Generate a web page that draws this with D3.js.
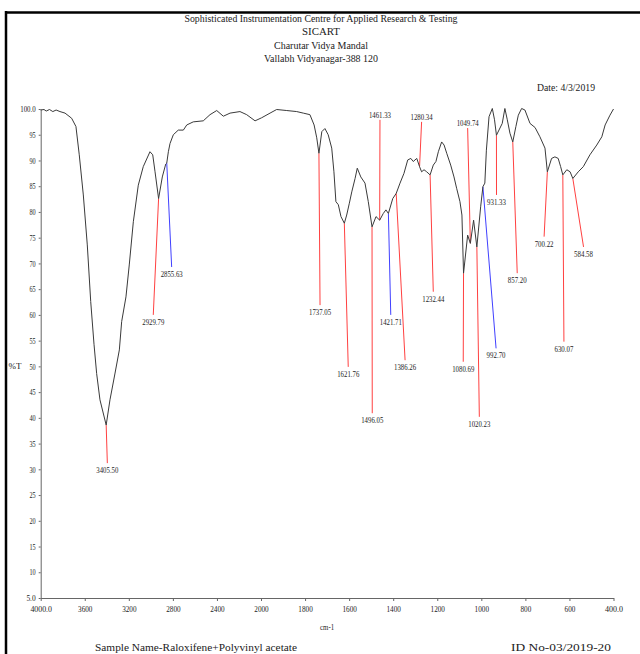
<!DOCTYPE html>
<html>
<head>
<meta charset="utf-8">
<script src="https://cdn.jsdelivr.net/npm/d3@7"></script>
<style>
  html, body { margin: 0; padding: 0; background: #fff; }
  svg { display: block; }
  text { font-family: "Liberation Serif", "DejaVu Serif", serif; fill: #222; }
</style>
</head>
<body>
<svg id="graf_ir" width="640" height="654"></svg>
<script>
// spectrum (cm-1, %T)
const wavenumber = [4000, 3970, 3950, 3920, 3890, 3860, 3825, 3779, 3719, 3680, 3650, 3613, 3577, 3546, 3516, 3492, 3462, 3405.5, 3371, 3325, 3286, 3265, 3226, 3196, 3159, 3114, 3069, 3008, 2983, 2962, 2929.79, 2896, 2865, 2855.63, 2841, 2826, 2796, 2751, 2705, 2674, 2615, 2524, 2463, 2402, 2342, 2281, 2191, 2130, 2054, 1997, 1959, 1929, 1883, 1838, 1808, 1778, 1759, 1747, 1737.05, 1724, 1710, 1695, 1679, 1669, 1660, 1649, 1637, 1621.76, 1611, 1599, 1588, 1573, 1563, 1547, 1528, 1513, 1496.05, 1478, 1461.33, 1445, 1433, 1421.71, 1402, 1386.26, 1369, 1351, 1334, 1320, 1309, 1293, 1280.34, 1271, 1260, 1248, 1232.44, 1218, 1206, 1195, 1180, 1169, 1157, 1139, 1124, 1112, 1097, 1088, 1080.69, 1062, 1049.74, 1035, 1020.23, 1003, 992.7, 984, 977, 965, 950, 940, 931.33, 905, 893, 882, 870, 857.2, 843, 832, 817, 802, 779, 756, 734, 711, 700.22, 681, 666, 651, 640, 630.07, 612, 597, 584.58, 560, 537, 507, 476, 453, 438, 416, 400];
const transmittance = [99.8, 99.9, 99.6, 99.9, 99.5, 99.8, 99.5, 99.2, 98.2, 96.6, 91.1, 83.3, 73.6, 62.6, 54.3, 48.6, 43.5, 38.6, 43.5, 48.7, 53.2, 58.7, 63.5, 69.7, 78.1, 85.2, 88.8, 91.7, 91.1, 87.8, 82.6, 86.8, 89.3, 89.5, 91.7, 93.3, 95, 95.9, 95.9, 96.9, 97.5, 97.7, 98.9, 99.7, 98.6, 99.2, 99.5, 98.9, 97.7, 98.3, 99.2, 99.9, 99.7, 99.5, 99.2, 98.9, 96.9, 94.4, 91.4, 95.6, 96.2, 95, 92.4, 87.8, 82, 81.4, 79.1, 77.8, 79.4, 81.7, 83.9, 86.5, 88.5, 86.8, 85.6, 82, 77.1, 79.1, 78.4, 79.7, 80.4, 79.7, 82.6, 83.6, 85.6, 87.5, 90.1, 90.4, 89.8, 90.4, 88.8, 87.8, 88.2, 87.8, 87.2, 89.1, 89.8, 91.7, 93.6, 93, 91.4, 89.1, 86.8, 84.6, 82, 79.4, 68.1, 75.5, 73.9, 78.4, 73.2, 81, 84.9, 85.6, 92, 98.5, 100.1, 97.9, 94.9, 97.2, 100.1, 97.9, 95.3, 93.6, 96.6, 98.8, 100.1, 99.8, 97.2, 96.4, 94.6, 92.4, 87.8, 90.4, 90.7, 90.4, 88.8, 87.2, 88.2, 87.8, 86.5, 87.8, 88.8, 91.1, 93, 94.6, 96.9, 98.8, 100];

// peak picks
const peakLabels = ["3405.50", "2929.79", "2855.63", "1737.05", "1621.76", "1496.05", "1461.33", "1421.71", "1386.26", "1280.34", "1232.44", "1080.69", "1049.74", "1020.23", "992.70", "931.33", "857.20", "700.22", "630.07", "584.58"];
const peakWn = peakLabels.map(Number);
// where each pick line ends (cm-1, %T)
const labelEndWn = [3395, 2978, 2811, 1732, 1604, 1495, 1460, 1411, 1346, 1271, 1218, 1082, 1062, 1009, 933, 931, 837, 715, 625, 536];
const labelEndT = [31.2, 60.0, 69.3, 61.9, 49.9, 40.9, 97.9, 60.0, 51.2, 97.5, 64.5, 50.9, 96.3, 40.2, 53.5, 83.3, 68.1, 75.2, 54.8, 73.2];
const bluePeaks = ["2855.63", "1421.71", "992.70"];

const xTicks = [4000, 3600, 3200, 2800, 2400, 2000, 1800, 1600, 1400, 1200, 1000, 800, 600, 400];
const yTicks = d3.range(5, 101, 5);

const header = ["Sophisticated Instrumentation Centre for Applied Research & Testing", "SICART", "Charutar Vidya Mandal", "Vallabh Vidyanagar-388 120"];
const headerWidth = [273, 38, 94, 114];
const dateText = "Date: 4/3/2019";
const sampleText = "Sample Name-Raloxifene+Polyvinyl acetate";
const idText = "ID No-03/2019-20";

const svg = d3.select("#graf_ir");

// spectrometer axis: scale doubles below 2000 cm-1
const x = d3.scaleLinear().domain([4000, 2000, 400]).range([40.7, 261, 613.5]);
const y = d3.scaleLinear().domain([5, 100]).range([598, 109]);

// page frame
svg.append("line").attr("x1", 5).attr("x2", 640).attr("y1", 12.5).attr("y2", 12.5)
  .attr("stroke", "#000").attr("stroke-width", 2.5);
svg.append("line").attr("x1", 6).attr("x2", 6).attr("y1", 11).attr("y2", 654)
  .attr("stroke", "#000").attr("stroke-width", 2.5);

function condensed(txt, cx, cy, size, width, anchor) {
  const t = svg.append("text")
    .attr("x", cx).attr("y", cy)
    .attr("font-size", size)
    .attr("text-anchor", anchor || "middle")
    .text(txt);
  if (width) t.attr("textLength", width).attr("lengthAdjust", "spacingAndGlyphs");
  return t;
}

header.forEach((h, i) => condensed(h, 321, 22 + i * 13.3, 11, headerWidth[i]));
condensed(dateText, 566, 91, 11, 58);
condensed(sampleText, 196, 651, 11, 202);
condensed(idText, 561, 651, 11, 100);

// axes
const gx = svg.append("g").attr("transform", "translate(0,598)")
  .call(d3.axisBottom(x).tickValues(xTicks).tickSize(3).tickSizeOuter(0)
    .tickFormat(d => (d === 4000 || d === 400) ? d3.format(".1f")(d) : d));
const gy = svg.append("g").attr("transform", "translate(40.7,0)")
  .call(d3.axisLeft(y).tickValues(yTicks).tickSize(2).tickSizeOuter(0)
    .tickFormat(d => (d === 5 || d === 100) ? d3.format(".1f")(d) : d));

[gx, gy].forEach(g => {
  g.select(".domain").attr("stroke", "#666");
  g.selectAll(".tick line").attr("stroke", "#666");
  g.selectAll(".tick text")
    .attr("font-family", "Liberation Serif")
    .attr("fill", "#222")
    .attr("font-size", 8.5);
});
gx.selectAll(".tick text").attr("dy", "0.95em").each(function(d) {
  const w = String(this.textContent).length;
  d3.select(this).attr("textLength", w * 3.6).attr("lengthAdjust", "spacingAndGlyphs");
});
gy.selectAll(".tick text").attr("x", -5).each(function(d) {
  const w = String(this.textContent).length;
  d3.select(this).attr("textLength", w * 3.1).attr("lengthAdjust", "spacingAndGlyphs");
});

condensed("cm-1", x(1700), 630, 8.5, 14);
condensed("%T", 15, y(49.5), 8.5, 13);

// spectrum
const spectrum = wavenumber.map((w, i) => [w, transmittance[i]]);
const line = d3.line().x(d => x(d[0])).y(d => y(d[1]));

// %T on the trace at a given wavenumber
const bis = d3.bisector(d => -d[0]).left;
function traceAt(w) {
  const i = Math.max(1, Math.min(spectrum.length - 1, bis(spectrum, -w)));
  const a = spectrum[i - 1], b = spectrum[i];
  const t = (w - a[0]) / (b[0] - a[0]);
  return a[1] + t * (b[1] - a[1]);
}

// peak pick lines and labels
peakLabels.forEach((lab, i) => {
  const x0 = x(peakWn[i]), y0 = y(traceAt(peakWn[i]));
  const x1 = x(labelEndWn[i]), y1 = y(labelEndT[i]);
  const col = bluePeaks.includes(lab) ? "#2a2aff" : "#ff2a2a";
  svg.append("line")
    .attr("x1", x0).attr("y1", y0).attr("x2", x1).attr("y2", y1)
    .attr("stroke", col).attr("stroke-width", 0.9);
  const up = y1 < y0;
  condensed(lab, x1, up ? y1 - 2 : y1 + 10, 9, lab.length * 3.15);
});

svg.append("path")
  .datum(spectrum)
  .attr("fill", "none")
  .attr("stroke", "#3a3a3a")
  .attr("stroke-width", 1)
  .attr("stroke-linejoin", "round")
  .attr("d", line);
</script>
</body>
</html>
